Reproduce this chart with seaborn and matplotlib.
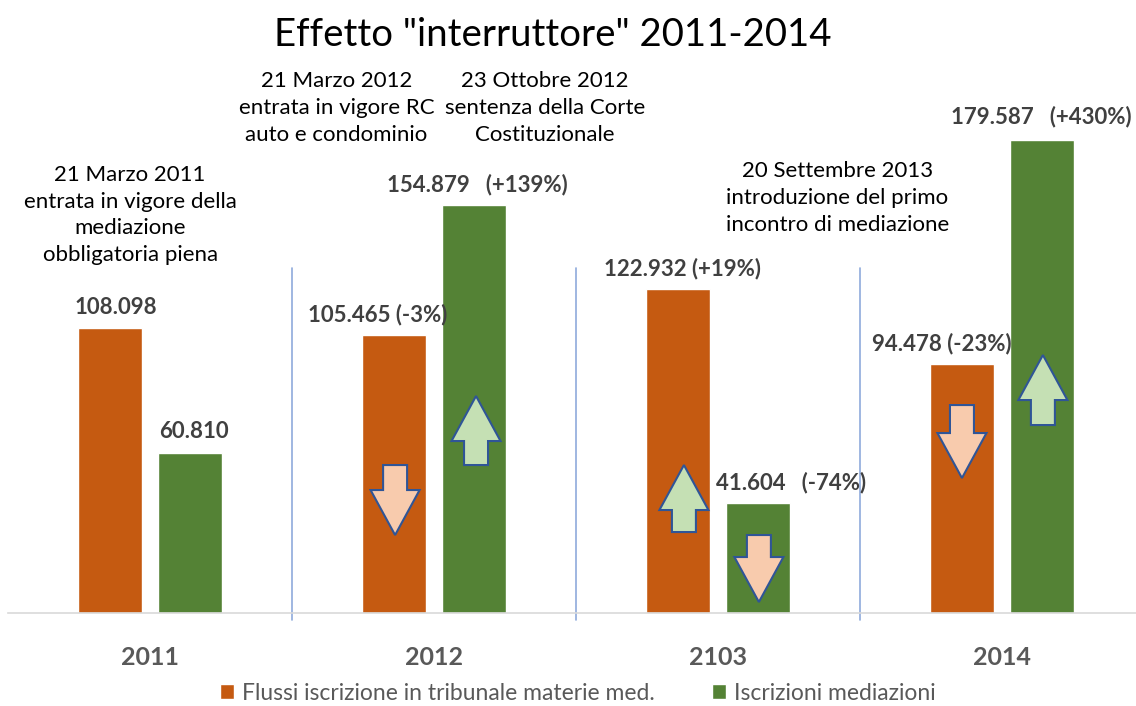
import pandas as pd
import matplotlib.pyplot as plt
from matplotlib.patches import Polygon
import seaborn as sns

# ~~~~~~~~~~~~~~~~~~  DATA  ~~~~~~~~~~~~~~~~~~
anni = ['2011', '2012', '2103', '2014']
tribunale = [108098, 105465, 122932, 94478]
mediazioni = [60810, 154879, 41604, 179587]
serie = ['Flussi iscrizione in tribunale materie med.', 'Iscrizioni mediazioni']

label_trib = ['108.098', '105.465 (-3%)', '122.932 (+19%)', '94.478 (-23%)']
label_med = ['60.810', '154.879   (+139%)', '41.604   (-74%)', '179.587   (+430%)']

note = ['21 Marzo 2011\nentrata in vigore della\nmediazione\nobbligatoria piena',
        '21 Marzo 2012\nentrata in vigore RC\nauto e condominio',
        '23 Ottobre 2012\nsentenza della Corte\nCostituzionale',
        '20 Settembre 2013\nintroduzione del primo\nincontro di mediazione']

df = pd.DataFrame({'anno': anni * 2,
                   'valore': tribunale + mediazioni,
                   'serie': [serie[0]] * 4 + [serie[1]] * 4})

arancio = '#C55A11'
verde = '#548235'

sns.set_theme(style='white')
plt.rcParams['font.family'] = ['Lato', 'DejaVu Sans']

fig = plt.figure(figsize=(11.36, 7.06), dpi=100)
ax = fig.add_axes([8 / 1136, 0.1317, 1136 / 1136, 0.746])

sns.barplot(data=df, x='anno', y='valore', hue='serie',
            palette=[arancio, verde], width=0.57, gap=0.21,
            saturation=1, ax=ax, legend=True)

ax.set_ylim(0, 200000)
ax.set_xlim(-0.5, 3.5)
ax.set_yticks([])
ax.set_ylabel('')
ax.set_xlabel('')
for s in ['top', 'right', 'left']:
    ax.spines[s].set_visible(False)
ax.spines['bottom'].set_color('#D9D9D9')
ax.spines['bottom'].set_linewidth(1.2)
ax.tick_params(axis='x', length=0, pad=24)
for t in ax.get_xticklabels():
    t.set_fontsize(18)
    t.set_fontweight('bold')
    t.set_color('#595959')

# separatori verticali
for xs in [0.5, 1.5, 2.5]:
    ax.plot([xs, xs], [-2600, 131000], color='#8FAADC', lw=1.2, clip_on=False)

# etichette valori
px = 379.7  # valore per pixel
fs = 16
grigio = '#404040'
ax.text(-0.12, tribunale[0] + 21 * px, label_trib[0], ha='center', va='center',
        fontsize=fs, fontweight='bold', color=grigio)
ax.text(0.153, mediazioni[0] + 21 * px, label_med[0], ha='center', va='center',
        fontsize=fs, fontweight='bold', color=grigio)
ax.text(0.8, tribunale[1] + 21 * px, label_trib[1], ha='center', va='center',
        fontsize=fs, fontweight='bold', color=grigio)
ax.text(0.835, mediazioni[1] + 21 * px, label_med[1], ha='left', va='center',
        fontsize=fs, fontweight='bold', color=grigio)
ax.text(1.875, tribunale[2] + 21 * px, label_trib[2], ha='center', va='center',
        fontsize=fs, fontweight='bold', color=grigio)
ax.text(1.993, mediazioni[2] + 21 * px, label_med[2], ha='left', va='center',
        fontsize=fs, fontweight='bold', color=grigio)
ax.text(2.542, tribunale[3] + 21 * px, label_trib[3], ha='left', va='center',
        fontsize=fs, fontweight='bold', color=grigio)
ax.text(3.455, mediazioni[3] + 24 * px, label_med[3], ha='right', va='center',
        fontsize=fs, fontweight='bold', color=grigio)

# note
fn = 16
ax.text(-0.07, (613 - 215) * px, note[0], ha='center', va='center', fontsize=fn,
        color='black', linespacing=1.42)
ax.text(0.657, (613 - 108) * px, note[1], ha='center', va='center', fontsize=fn,
        color='black', linespacing=1.42)
ax.text(1.39, (613 - 108) * px, note[2], ha='center', va='center', fontsize=fn,
        color='black', linespacing=1.42)
ax.text(2.42, (613 - 198) * px, note[3], ha='center', va='center', fontsize=fn,
        color='black', linespacing=1.42)


# frecce
def freccia(xc, y_coda, y_punta, fill):
    yc = (613 - y_coda) * px
    yp = (613 - y_punta) * px
    head = 45 * px * (1 if yp > yc else -1)
    sw = 12 / 284
    hw = 24.5 / 284
    pts = [(xc - sw, yc), (xc + sw, yc), (xc + sw, yp - head), (xc + hw, yp - head),
           (xc, yp), (xc - hw, yp - head), (xc - sw, yp - head)]
    ax.add_patch(Polygon(pts, closed=True, facecolor=fill, edgecolor='#2F5597',
                         lw=1.5, zorder=5))


giu = '#F8CBAD'
su = '#C5E0B4'
freccia(0.863, 465, 535, giu)
freccia(1.148, 465, 396, su)
freccia(1.880, 532, 465, su)
freccia(2.144, 535, 602, giu)
freccia(2.859, 405, 478, giu)
freccia(3.144, 425, 355, su)

fig.text(553 / 1136, 1 - 35 / 706, 'Effetto "interruttore" 2011-2014', ha='center',
         va='center', fontsize=27.6, color='black')

leg = ax.legend(loc='center', bbox_to_anchor=(578 / 1136, (706 - 693) / 706),
                bbox_transform=fig.transFigure, ncol=2, frameon=False,
                fontsize=16.5, handlelength=0.6, handleheight=0.6,
                handletextpad=0.35, columnspacing=2.5)
for t in leg.get_texts():
    t.set_color('#595959')

plt.savefig('out.png', dpi=100)
